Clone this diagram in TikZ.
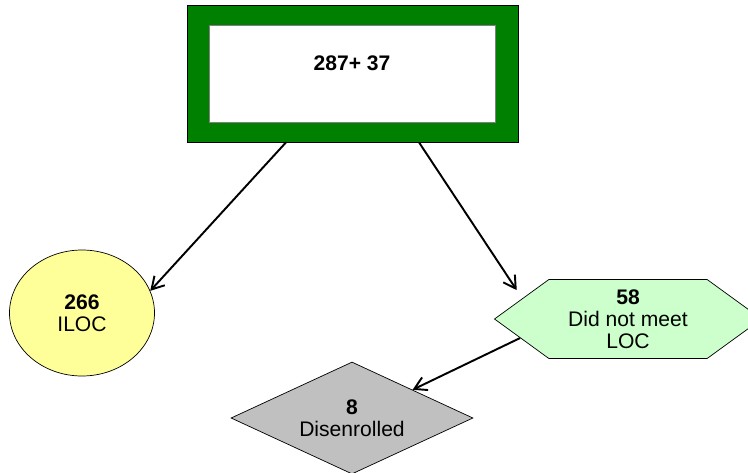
\documentclass[tikz,border=0pt]{standalone}
\usepackage{fontspec}
\setmainfont{Liberation Sans}
\usepackage{tikz}
\usetikzlibrary{shapes.geometric,shapes.symbols,arrows.meta}
\definecolor{boxgreen}{RGB}{0,128,0}
\definecolor{ilocyellow}{RGB}{255,255,153}
\definecolor{locgreen}{RGB}{204,255,204}
\definecolor{disgray}{RGB}{192,192,192}

\begin{document}
\begin{tikzpicture}[font=\fontsize{12}{12.6}\selectfont,
	arrow/.style={-{Straight Barb[length=2.4mm,width=2.8mm]}, line width=1.1pt},
	outline/.style={draw=black, line width=0.4pt}]
	\useasboundingbox (0,0) rectangle (14.96,-9.44);
	
	\node[outline, fill=boxgreen, minimum width=6.62cm, minimum height=2.74cm] (top) at (7.05,-1.47) {};
	\node[draw=gray, fill=white, minimum width=5.72cm, minimum height=1.94cm] (topinner) at (7.04,-1.47) {};
	\node[font=\fontsize{12}{12.6}\selectfont\bfseries] (total) at (7.04,-1.26) {287+ 37};
	
	\node[outline, ellipse, fill=ilocyellow, minimum width=2.9cm, minimum height=2.52cm, inner sep=0, align=center] (iloc) at (1.64,-6.26) {\textbf{266}\\ILOC};
	
	\node[outline, signal, signal to=west and east, signal pointer angle=72, fill=locgreen, minimum width=5.34cm, minimum height=1.58cm, inner sep=0, align=center] (noloc) at (12.56,-6.38) {\textbf{58}\\Did not meet\\LOC};
	
	\node[outline, diamond, fill=disgray, minimum width=4.84cm, minimum height=2.24cm, aspect=2.16, inner sep=0, align=center] (disenrolled) at (7.04,-8.36) {\textbf{8}\\Disenrolled};
	
	\draw[arrow] (top.-134) -- (iloc.18);
	\draw[arrow, shorten >=0.2cm] (top.-46) -- (noloc.169);
	\draw[arrow] (noloc.190) -- (disenrolled.25);
\end{tikzpicture}
\end{document}
